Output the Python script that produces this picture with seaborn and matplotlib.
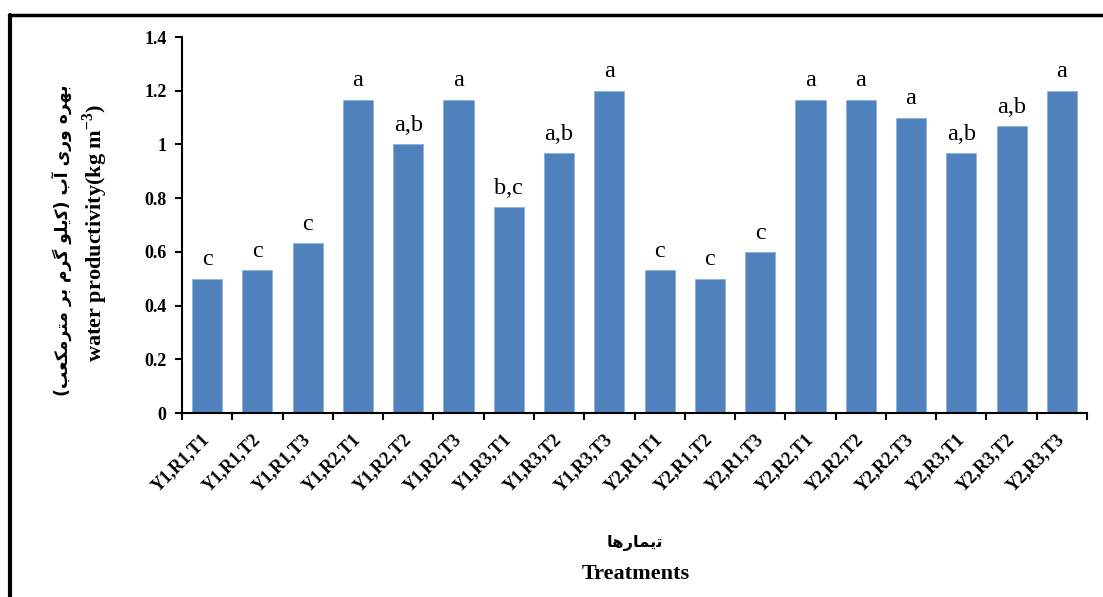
import matplotlib
matplotlib.use("Agg")
import matplotlib.pyplot as plt
import seaborn as sns
import pandas as pd
from matplotlib.lines import Line2D
from matplotlib.ticker import FixedLocator

categories = ["Y1,R1,T1", "Y1,R1,T2", "Y1,R1,T3", "Y1,R2,T1", "Y1,R2,T2", "Y1,R2,T3",
              "Y1,R3,T1", "Y1,R3,T2", "Y1,R3,T3", "Y2,R1,T1", "Y2,R1,T2", "Y2,R1,T3",
              "Y2,R2,T1", "Y2,R2,T2", "Y2,R2,T3", "Y2,R3,T1", "Y2,R3,T2", "Y2,R3,T3"]
values = [0.50, 0.533, 0.633, 1.167, 1.0, 1.167, 0.767, 0.967, 1.2,
          0.533, 0.50, 0.60, 1.167, 1.167, 1.10, 0.967, 1.067, 1.2]
letters = ["c", "c", "c", "a", "a,b", "a", "b,c", "a,b", "a",
           "c", "c", "c", "a", "a", "a", "a,b", "a,b", "a"]
y_ticks = [0, 0.2, 0.4, 0.6, 0.8, 1.0, 1.2, 1.4]
y_tick_labels = ["0", "0.2", "0.4", "0.6", "0.8", "1", "1.2", "1.4"]

# Persian labels (pre-shaped visual order, presentation forms)
ylabel_fa = ("(" + "\uFE90\uFECC\uFB91\uFEE3\uFEAE\uFE98\uFEE3" + " " + "\uFEAE\uFE91" + " "
             + "\uFEE1\uFEAE\uFB94" + " " + "\uFEEE\uFEE0\uFBFE\uFB90" + ")" + " "
             + "\uFE8F\uFE81" + " " + "\uFBFC\uFEAD\uFEED" + " " + "\uFEE9\uFEAE\uFEEC\uFE91")
xlabel_fa = "\uFE8E\uFEEB\uFEAD\uFE8E\uFEE4\uFBFE\uFE97"
ylabel_en = r"water productivity(kg m$^{\mathbf{-3}}$)"
xlabel_en = "Treatments"

sns.set_theme(style="white")
plt.rcParams['font.family'] = ['Liberation Serif', 'DejaVu Sans']
plt.rcParams['mathtext.fontset'] = 'custom'
plt.rcParams['mathtext.rm'] = 'Liberation Serif:bold'
plt.rcParams['mathtext.bf'] = 'Liberation Serif:bold'
for k in ['text.color', 'axes.labelcolor', 'xtick.color', 'ytick.color', 'axes.edgecolor']:
    plt.rcParams[k] = 'black'

df = pd.DataFrame({"cat": categories, "val": values})

fig = plt.figure(figsize=(11.03, 5.97), dpi=100)
ax = fig.add_axes([0.165, 0.3082, 0.8205, 0.6298])
sns.barplot(data=df, x="cat", y="val", color="#4F81BD", saturation=1, width=0.6,
            edgecolor="#8DAFD9", linewidth=0.6, ax=ax)

ax.set_xlim(-0.5, len(categories) - 0.5)
ax.set_ylim(0, 1.4)
ax.set_yticks(y_ticks)
ax.set_yticklabels(y_tick_labels, fontweight="bold", fontsize=13)
ax.set_xticks(range(len(categories)))
ax.set_xticklabels(categories, rotation=45, ha="right", va="center",
                   rotation_mode="anchor", fontweight="bold", fontsize=13)
ax.tick_params(axis="x", which="major", length=0, pad=17)
ax.xaxis.set_minor_locator(FixedLocator([i - 0.5 for i in range(len(categories) + 1)]))
ax.tick_params(axis="x", which="minor", length=5, width=1.5, color="black", direction="out", bottom=True)
ax.tick_params(axis="y", length=5, width=1.5, color="black", direction="out", left=True, pad=6)

for s in ["top", "right"]:
    ax.spines[s].set_visible(False)
for s in ["left", "bottom"]:
    ax.spines[s].set_color("black")
    ax.spines[s].set_linewidth(1.5)
ax.set_xlabel("")
ax.set_ylabel("")
ax.grid(False)

for i, (v, t) in enumerate(zip(values, letters)):
    ax.annotate(t, (i, v), xytext=(0, 6), textcoords="offset points",
                ha="center", va="bottom", fontsize=17.5, color="black")

# axis titles
fig.text(0.056, 1 - 240 / 597, ylabel_fa, rotation=90, ha="center", va="center",
         fontsize=12.3, fontweight="bold", family="DejaVu Sans", color="black")
fig.text(0.086, 0.61, ylabel_en, rotation=90, ha="center", va="center",
         fontsize=16, fontweight="bold", color="black")
fig.text(0.576, 1 - 543 / 597, xlabel_fa, ha="center", va="center",
         fontsize=11.8, fontweight="bold", family="DejaVu Sans", color="black")
fig.text(0.576, 1 - 574 / 597, xlabel_en, ha="center", va="center",
         fontsize=16, fontweight="bold", color="black")

# outer frame
fig.add_artist(Line2D([10 / 1103, 10 / 1103], [0, 1 - 15 / 597], transform=fig.transFigure,
                      color="black", linewidth=3))
fig.add_artist(Line2D([9 / 1103, 1], [1 - 15 / 597, 1 - 15 / 597], transform=fig.transFigure,
                      color="black", linewidth=2.5))

fig.savefig("out.png", dpi=100)
